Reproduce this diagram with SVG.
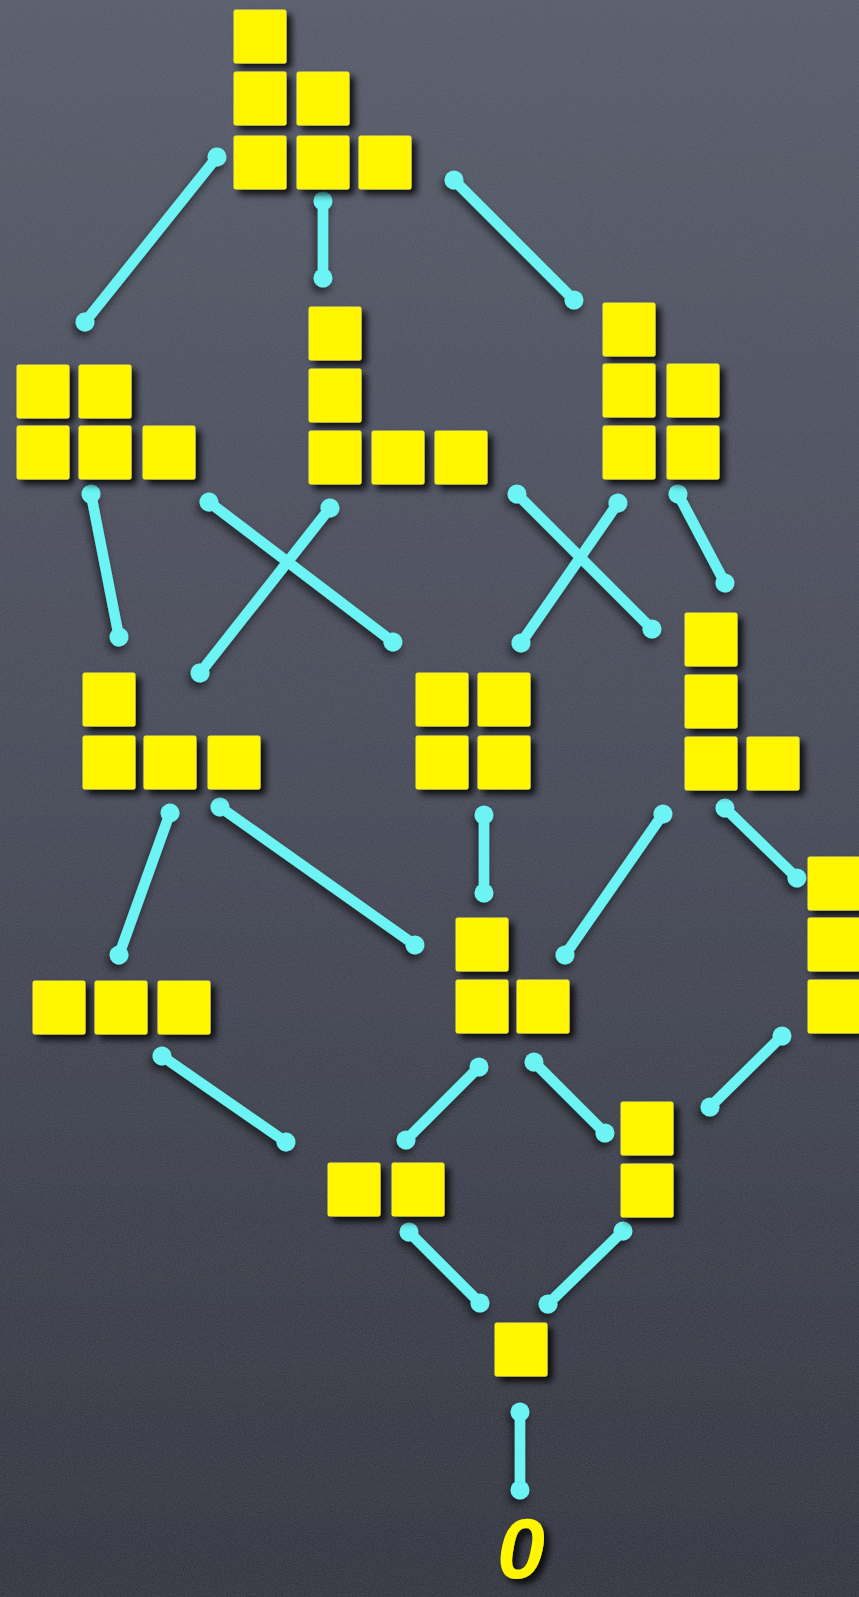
<svg xmlns="http://www.w3.org/2000/svg" width="859" height="1597" viewBox="0 0 859 1597">
<defs>
<linearGradient id="bg" x1="0" y1="0" x2="0" y2="1">
<stop offset="0" stop-color="#545868"/>
<stop offset="0.5" stop-color="#424655"/>
<stop offset="1" stop-color="#2a2d3a"/>
</linearGradient>
<filter id="chalk" x="0" y="0" width="100%" height="100%">
<feTurbulence type="fractalNoise" baseFrequency="0.9" numOctaves="2" seed="3" result="n"/>
<feColorMatrix in="n" type="matrix" values="0 0 0 0 1  0 0 0 0 1  0 0 0 0 1  0 0 0 0.05 0" result="w"/>
<feComposite in="w" in2="SourceGraphic" operator="in" result="t"/>
<feMerge><feMergeNode in="SourceGraphic"/><feMergeNode in="t"/></feMerge>
</filter>
<filter id="sh" x="-30%" y="-30%" width="170%" height="170%">
<feDropShadow dx="5" dy="5" stdDeviation="3.5" flood-color="#000" flood-opacity="0.85"/>
</filter>
<filter id="lsh" x="-20%" y="-20%" width="140%" height="140%">
<feDropShadow dx="-2" dy="5" stdDeviation="4" flood-color="#000" flood-opacity="0.6"/>
</filter>
<marker id="bulb" markerUnits="userSpaceOnUse" viewBox="-11 -11 22 22" markerWidth="22" markerHeight="22" refX="0" refY="0" orient="auto">
<circle r="9.5" fill="#6cf3f3"/>
</marker>
<rect id="sq" width="52" height="53" rx="1.5"/>
</defs>
<style>
.sq{fill:#fff600;stroke:#f4ee3a;stroke-width:1}
.node{filter:url(#sh)}
#connectors line{stroke:#6cf3f3;stroke-width:10.5;stroke-linecap:round;marker-start:url(#bulb);marker-end:url(#bulb)}
#connectors{filter:url(#lsh)}
.zero{font-family:"Liberation Sans",Arial,sans-serif;font-style:italic;font-weight:bold;font-size:86px;fill:#fff600}
</style>
<rect width="859" height="1597" fill="url(#bg)" filter="url(#chalk)"/>

<g id="connectors">
<line x1="217" y1="157" x2="85" y2="322"/>
<line x1="323" y1="201" x2="323" y2="278"/>
<line x1="454" y1="180" x2="574" y2="300"/>
<line x1="91" y1="494" x2="119" y2="637"/>
<line x1="209" y1="502" x2="393" y2="642"/>
<line x1="330" y1="508" x2="200" y2="673"/>
<line x1="517" y1="494" x2="652" y2="629"/>
<line x1="618" y1="503" x2="521" y2="643"/>
<line x1="678" y1="494" x2="725" y2="583"/>
<line x1="170" y1="813" x2="119" y2="955"/>
<line x1="220" y1="807" x2="415" y2="945"/>
<line x1="484" y1="815" x2="484" y2="893"/>
<line x1="663" y1="814" x2="565" y2="955"/>
<line x1="725" y1="808" x2="797" y2="878"/>
<line x1="162" y1="1056" x2="286" y2="1142"/>
<line x1="479" y1="1067" x2="406" y2="1140"/>
<line x1="534" y1="1062" x2="605" y2="1133"/>
<line x1="782" y1="1036" x2="710" y2="1107"/>
<line x1="409" y1="1232" x2="480" y2="1303"/>
<line x1="623" y1="1231" x2="548" y2="1304"/>
<line x1="520" y1="1412" x2="520" y2="1490"/>
</g>

<g id="p321" class="node">
<use href="#sq" class="sq" x="234" y="10"/>
<use href="#sq" class="sq" x="234" y="72"/><use href="#sq" class="sq" x="297" y="72"/>
<use href="#sq" class="sq" x="234" y="136"/><use href="#sq" class="sq" x="297" y="136"/><use href="#sq" class="sq" x="359" y="136"/>
</g>
<g id="p32" class="node">
<use href="#sq" class="sq" x="17" y="365"/><use href="#sq" class="sq" x="79" y="365"/>
<use href="#sq" class="sq" x="17" y="426"/><use href="#sq" class="sq" x="79" y="426"/><use href="#sq" class="sq" x="143" y="426"/>
</g>
<g id="p311" class="node">
<use href="#sq" class="sq" x="309" y="307"/>
<use href="#sq" class="sq" x="309" y="369"/>
<use href="#sq" class="sq" x="309" y="431"/><use href="#sq" class="sq" x="372" y="431"/><use href="#sq" class="sq" x="435" y="431"/>
</g>
<g id="p221" class="node">
<use href="#sq" class="sq" x="603" y="303"/>
<use href="#sq" class="sq" x="603" y="364"/><use href="#sq" class="sq" x="667" y="364"/>
<use href="#sq" class="sq" x="603" y="426"/><use href="#sq" class="sq" x="667" y="426"/>
</g>
<g id="p31" class="node">
<use href="#sq" class="sq" x="83" y="673"/>
<use href="#sq" class="sq" x="83" y="736"/><use href="#sq" class="sq" x="144" y="736"/><use href="#sq" class="sq" x="208" y="736"/>
</g>
<g id="p22" class="node">
<use href="#sq" class="sq" x="416" y="673"/><use href="#sq" class="sq" x="478" y="673"/>
<use href="#sq" class="sq" x="416" y="736"/><use href="#sq" class="sq" x="478" y="736"/>
</g>
<g id="p211" class="node">
<use href="#sq" class="sq" x="685" y="613"/>
<use href="#sq" class="sq" x="685" y="675"/>
<use href="#sq" class="sq" x="685" y="737"/><use href="#sq" class="sq" x="747" y="737"/>
</g>
<g id="p3" class="node">
<use href="#sq" class="sq" x="33" y="981"/><use href="#sq" class="sq" x="95" y="981"/><use href="#sq" class="sq" x="158" y="981"/>
</g>
<g id="p21" class="node">
<use href="#sq" class="sq" x="456" y="918"/>
<use href="#sq" class="sq" x="456" y="980"/><use href="#sq" class="sq" x="517" y="980"/>
</g>
<g id="p111" class="node">
<use href="#sq" class="sq" x="808" y="857"/>
<use href="#sq" class="sq" x="808" y="918"/>
<use href="#sq" class="sq" x="808" y="980"/>
</g>
<g id="p2" class="node">
<use href="#sq" class="sq" x="328" y="1163"/><use href="#sq" class="sq" x="392" y="1163"/>
</g>
<g id="p11" class="node">
<use href="#sq" class="sq" x="621" y="1102"/>
<use href="#sq" class="sq" x="621" y="1164"/>
</g>
<g id="p1" class="node">
<use href="#sq" class="sq" x="495" y="1323"/>
</g>
<g id="empty" class="node">
<text class="zero" x="521" y="1578" text-anchor="middle">0</text>
</g>
</svg>
